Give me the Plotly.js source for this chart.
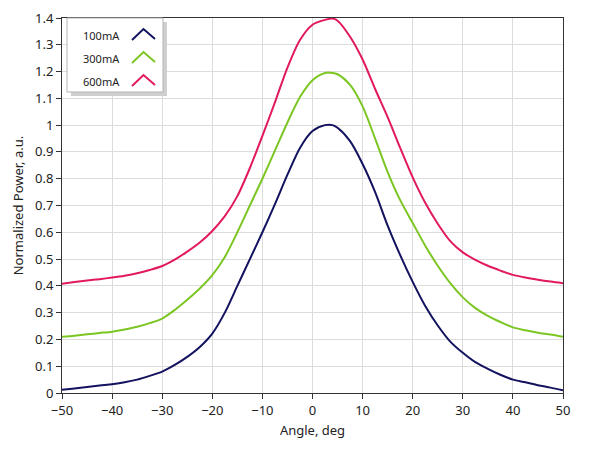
<!DOCTYPE html>
<html>
<head>
<meta charset="utf-8">
<script src="https://cdn.plot.ly/plotly-3.0.1.min.js"></script>
<style>
html,body{margin:0;padding:0;background:#fff;}
#chart{width:589px;height:456px;}
</style>
</head>
<body>
<div id="chart"></div>
<script>
var angles = [-50,-47.5,-45,-42.5,-40,-37.5,-35,-32.5,-30,-27.5,-25,-22.5,-20,-17.5,-15,-12.5,-10,-7.5,-5,-2.5,0,2.5,4,5,7.5,10,12.5,15,17.5,20,22.5,25,27.5,30,32.5,35,37.5,40,42.5,45,47.5,50];
var p100 = [0.012,0.017,0.022,0.028,0.033,0.040,0.050,0.064,0.080,0.105,0.135,0.172,0.222,0.300,0.400,0.500,0.600,0.705,0.815,0.915,0.978,1.000,1.000,0.990,0.940,0.855,0.750,0.625,0.515,0.415,0.325,0.252,0.192,0.150,0.115,0.090,0.068,0.050,0.040,0.029,0.020,0.010];
var p300 = [0.210,0.214,0.219,0.224,0.229,0.237,0.247,0.261,0.278,0.310,0.348,0.390,0.440,0.508,0.600,0.700,0.800,0.905,1.010,1.105,1.168,1.195,1.195,1.190,1.150,1.070,0.950,0.825,0.720,0.635,0.550,0.475,0.410,0.357,0.317,0.288,0.265,0.245,0.234,0.225,0.218,0.210];
var p600 = [0.408,0.414,0.420,0.425,0.431,0.438,0.447,0.459,0.474,0.498,0.528,0.562,0.605,0.660,0.735,0.840,0.960,1.085,1.215,1.318,1.375,1.393,1.398,1.390,1.330,1.245,1.135,1.030,0.915,0.805,0.710,0.632,0.567,0.525,0.497,0.475,0.457,0.441,0.431,0.423,0.416,0.410];
var seriesNames = ['100mA','300mA','600mA'];
var seriesColors = ['#12125f','#7cc623','#e2195f'];
var xTicks = [-50,-40,-30,-20,-10,0,10,20,30,40,50];
var yTicks = [0,0.1,0.2,0.3,0.4,0.5,0.6,0.7,0.8,0.9,1,1.1,1.2,1.3,1.4];

var seriesVals = [p100,p300,p600];
var traces = seriesVals.map(function(v,i){
  return {x:angles, y:v, type:'scatter', mode:'lines', name:seriesNames[i],
          line:{color:seriesColors[i], width:2, shape:'spline', smoothing:0.8}, showlegend:false};
});

var L=62, R=563, T=18, B=393;
function px(x){return (x-L)/(R-L);}
function py(y){return (B-y)/(B-T);}

var shapes = [
  {type:'rect', xref:'paper', yref:'paper', x0:px(71), x1:px(167), y0:py(96), y1:py(22), fillcolor:'#cfcfcf', line:{width:0}, layer:'above'},
  {type:'rect', xref:'paper', yref:'paper', x0:px(67), x1:px(163), y0:py(92), y1:py(18), fillcolor:'#ffffff', line:{color:'#b5b5b5', width:1}, layer:'above'}
];
var annotations = [];
var rowY = [35,58,81];
for (var i=0;i<3;i++){
  var yc = rowY[i];
  shapes.push({type:'path', xref:'paper', yref:'paper', layer:'above',
    path:'M '+px(132)+','+py(yc+5)+' L '+px(143.5)+','+py(yc-6)+' L '+px(155)+','+py(yc+4),
    line:{color:seriesColors[i], width:2}});
  annotations.push({xref:'paper', yref:'paper', x:px(81), y:py(yc), xanchor:'left', yanchor:'middle',
    text:seriesNames[i], showarrow:false, font:{family:'Noto Sans, DejaVu Sans, sans-serif', size:11, color:'#222'}});
}

var layout = {
  width:589, height:456,
  margin:{l:L, r:589-R, t:T, b:456-B, pad:0},
  paper_bgcolor:'#fff', plot_bgcolor:'#fff',
  font:{family:'Noto Sans, DejaVu Sans, sans-serif', size:13, color:'#222'},
  xaxis:{range:[-50,50], tickvals:xTicks, ticks:'outside', ticklen:5, tickcolor:'#333',
    showline:true, linecolor:'#333', linewidth:1, mirror:true, zeroline:false,
    gridcolor:'#dcdcdc', gridwidth:1,
    title:{text:'Angle, deg', font:{size:13}, standoff:8}, tickfont:{size:13}},
  yaxis:{range:[0,1.4], tickvals:yTicks, ticks:'outside', ticklen:5, tickcolor:'#333',
    showline:true, linecolor:'#333', linewidth:1, mirror:true, zeroline:false,
    gridcolor:'#dcdcdc', gridwidth:1,
    title:{text:'Normalized Power, a.u.', font:{size:13}, standoff:8}, tickfont:{size:13}},
  shapes:shapes, annotations:annotations, showlegend:false
};
Plotly.newPlot('chart', traces, layout, {staticPlot:true, displayModeBar:false});
</script>
</body>
</html>
